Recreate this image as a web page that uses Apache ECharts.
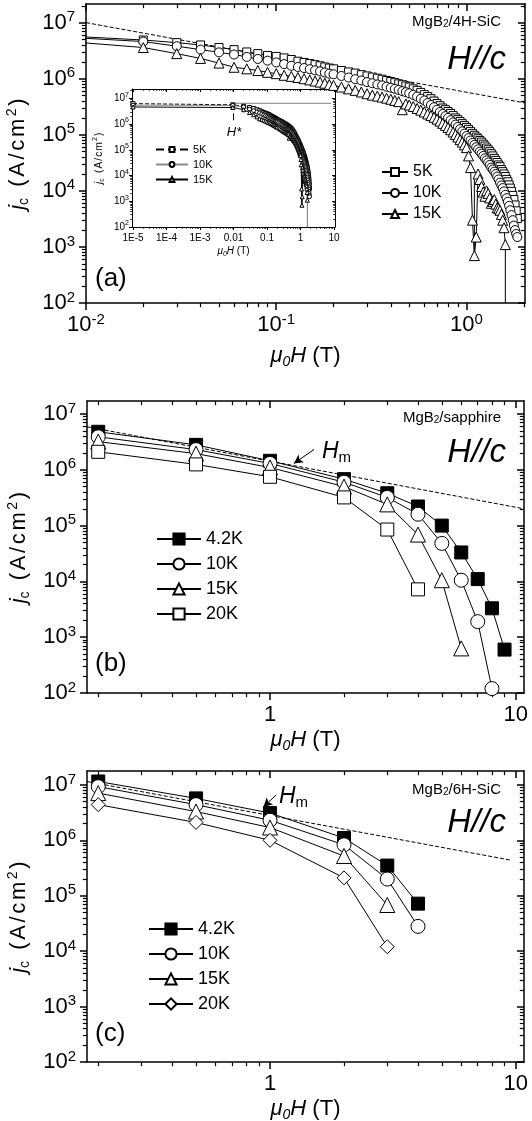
<!DOCTYPE html>
<html>
<head>
<meta charset="utf-8">
<title>MgB2 jc(H)</title>
<script src="https://cdn.jsdelivr.net/npm/echarts@6/dist/echarts.min.js"></script>
<style>html,body{margin:0;padding:0;background:#fff;}</style>
</head>
<body>
<div id="main" style="width:532px;height:1121px;"></div>
<script type="text/javascript">
// ---- panel (a): MgB2/4H-SiC, field (T) and jc (A/cm2) ----
var fieldA = [1e-5, 0.0095,
    0.02, 0.03, 0.04, 0.05, 0.06, 0.07, 0.08, 0.09, 0.1,
    0.11, 0.12, 0.13, 0.14, 0.15, 0.16, 0.17, 0.18, 0.19, 0.2,
    0.22, 0.24, 0.26, 0.28, 0.3, 0.32, 0.34, 0.36, 0.38, 0.4, 0.42, 0.44, 0.46, 0.48, 0.5,
    0.525, 0.55, 0.575, 0.6, 0.625, 0.65, 0.675, 0.7, 0.725, 0.75, 0.775, 0.8, 0.825, 0.85, 0.875, 0.9, 0.925, 0.95, 0.975, 1.0,
    1.025, 1.05, 1.075, 1.1, 1.125, 1.15, 1.175, 1.2, 1.225, 1.25, 1.275, 1.3, 1.325, 1.35, 1.375, 1.4, 1.425, 1.45, 1.475, 1.5,
    1.525, 1.55, 1.575, 1.6, 1.625, 1.65, 1.675, 1.7, 1.725, 1.75, 1.775, 1.8, 1.825, 1.85];
var jcA5K = [6.2e6, 5.6e6,
    4.9e6, 4.4e6, 4.0e6, 3.6e6, 3.3e6, 3.0e6, 2.8e6, 2.6e6, 2.5e6,
    2.35e6, 2.2e6, 2.05e6, 1.95e6, 1.86e6, 1.78e6, 1.7e6, 1.62e6, 1.55e6, 1.5e6,
    1.4e6, 1.32e6, 1.26e6, 1.18e6, 1.12e6, 1.07e6, 1.02e6, 9.8e5, 9.3e5, 8.9e5, 8.5e5, 8.1e5, 7.8e5, 7.4e5, 7.1e5,
    6.6e5, 6.2e5, 5.7e5, 5.2e5, 4.8e5, 4.4e5, 4.0e5, 3.6e5, 3.3e5, 3.0e5, 2.8e5, 2.6e5, 2.4e5, 2.2e5, 2.0e5, 1.86e5, 1.72e5, 1.58e5, 1.46e5, 1.35e5,
    1.25e5, 1.15e5, 1.06e5, 9.8e4, 9.1e4, 8.5e4, 7.9e4, 7.4e4, 6.8e4, 6.3e4, 5.8e4, 5.4e4, 5.0e4, 4.6e4, 4.2e4, 3.8e4, 3.5e4, 3.2e4, 2.9e4, 2.7e4,
    2.4e4, 2.2e4, 2.0e4, 1.8e4, 1.6e4, 1.45e4, 1.28e4, 1.12e4, 9.8e3, 8.3e3, 7.0e3, 5.6e3, 4.4e3, 3.2e3];
var jcA10K = [5.4e6, 5.3e6,
    4.6e6, 3.8e6, 3.3e6, 2.95e6, 2.7e6, 2.45e6, 2.25e6, 2.1e6, 1.95e6,
    1.82e6, 1.7e6, 1.62e6, 1.55e6, 1.48e6, 1.41e6, 1.35e6, 1.29e6, 1.23e6, 1.2e6,
    1.12e6, 1.05e6, 9.8e5, 9.3e5, 8.7e5, 8.3e5, 7.9e5, 7.6e5, 7.2e5, 6.9e5, 6.6e5, 6.3e5, 6.0e5, 5.75e5, 5.5e5,
    5.15e5, 4.8e5, 4.4e5, 4.1e5, 3.7e5, 3.4e5, 3.1e5, 2.8e5, 2.55e5, 2.35e5, 2.15e5, 2.0e5, 1.82e5, 1.66e5, 1.52e5, 1.38e5, 1.26e5, 1.15e5, 1.05e5, 9.5e4,
    8.7e4, 7.9e4, 7.2e4, 6.6e4, 6.0e4, 5.5e4, 5.0e4, 4.6e4, 4.2e4, 3.8e4, 3.5e4, 3.2e4, 2.9e4, 2.6e4, 2.4e4, 2.2e4, 2.0e4, 1.8e4, 1.6e4, 1.4e4,
    1.25e4, 1.12e4, 9.8e3, 8.5e3, 7.4e3, 6.4e3, 5.4e3, 4.5e3, 3.7e3, 3.0e3, 2.4e3, 2.0e3, 1.7e3, 1.5e3];
var jcA15K = [4.6e6, 4.4e6,
    3.6e6, 2.8e6, 2.3e6, 1.9e6, 1.6e6, 1.5e6, 1.4e6, 1.3e6, 1.23e6,
    1.15e6, 1.1e6, 1.05e6, 1.0e6, 9.5e5, 9.1e5, 8.7e5, 8.3e5, 7.9e5, 7.6e5,
    7.1e5, 6.6e5, 6.2e5, 5.8e5, 5.4e5, 5.1e5, 4.9e5, 4.7e5, 4.5e5, 4.3e5, 4.1e5, 3.9e5, 2.8e5, 3.55e5, 3.4e5,
    3.2e5, 2.95e5, 2.75e5, 2.55e5, 2.35e5, 2.2e5, 2.05e5, 1.9e5, 1.75e5, 1.6e5, 1.47e5, 1.35e5, 1.23e5, 1.12e5, 1.01e5, 9.1e4, 8.2e4, 7.4e4, 6.6e4, 5.9e4,
    4.2e4, 2.6e4, 3.0e3, 7e2, 1.5e3, 2.0e4, 1.6e4, 1.2e4, 9.5e3, 8e3, 1.0e4, 9e3, 7.5e3, 6e3, 6.5e3, 7e3, 5.8e3, 5e3, 4.8e3, 4.5e3,
    3.8e3, 3e3, 2.2e3, 1.1e3, null, null, null, null, null, null, null, null, null, null];
var errA = [[1.1, 7e2, 1.6e4], [1.6, 1e2, 1.1e3]];   // field, low, high
var dashA = [[0.01, 1e7], [2.03, 3.7e5]];
var dotInset = [[0.01, 6.4e6], [8, 6.4e6]];
var hStarTick = [[0.01, 2.6e6], [0.01, 1.4e6]];

// ---- panel (b): MgB2/sapphire ----
var fieldB = [0.2, 0.5, 1, 2, 3, 4, 5, 6, 7, 8, 9];
var jcB42K = [4.8e6, 2.8e6, 1.45e6, 6.8e5, 3.8e5, 2.2e5, 1.0e5, 3.3e4, 1.1e4, 3.3e3, 6e2];
var jcB10K = [3.9e6, 2.3e6, 1.3e6, 6.0e5, 3.2e5, 1.6e5, 4.8e4, 1.05e4, 1.9e3, 1.2e2, null];
var jcB15K = [3.2e6, 1.95e6, 1.1e6, 5.0e5, 2.4e5, 6.9e4, 1.05e4, 6.3e2, null, null, null];
var jcB20K = [2.1e6, 1.25e6, 7.5e5, 3.2e5, 8.5e4, 7.2e3, null, null, null, null, null];
var dashB = [[0.18, 5.9e6], [10.8, 2e5]];
var arrowB = [[1.51, 2.31e6], [1.25, 1.3e6]];

// ---- panel (c): MgB2/6H-SiC ----
var fieldC = [0.2, 0.5, 1, 2, 3, 4];
var jcC42K = [1.15e7, 5.7e6, 3.1e6, 1.1e6, 3.5e5, 7.2e4];
var jcC10K = [9.3e6, 4.4e6, 2.3e6, 8.3e5, 2.0e5, 2.8e4];
var jcC15K = [7.1e6, 3.3e6, 1.7e6, 5.2e5, 6.8e4, null];
var jcC20K = [4.4e6, 2.1e6, 1.0e6, 2.1e5, 1.2e4, null];
var dashC = [[0.18, 1.15e7], [9.5, 4.4e5]];
var arrowC = [[1.06, 6.6e6], [0.94, 4.0e6]];

// tick marks / labels
var subTicks = [2, 3, 4, 5, 6, 7, 8, 9];
var insetXLabels = ['1E-5', '1E-4', '1E-3', '0.01', '0.1', '1', '10'];

var FONT = 'Liberation Sans';
var BLACK = '#000';
var WHITE = '#fff';

function lg(v) { return Math.log10(v); }
function majorTicks(lo, hi) {
    var out = [];
    for (var n = Math.ceil(lo - 1e-9); n <= Math.floor(hi + 1e-9); n++) out.push(n);
    return out;
}
function minorTicks(lo, hi) {
    var out = [];
    for (var n = Math.floor(lo); n <= Math.ceil(hi); n++) {
        subTicks.forEach(function (m) {
            var v = n + lg(m);
            if (v >= lo && v <= hi) out.push(v);
        });
    }
    return out;
}

var grids = [], xAxes = [], yAxes = [], series = [];

function overlay(gi, lo, hi, extra) {
    return Object.assign({
        type: 'value', gridIndex: gi, min: lo, max: hi, silent: true,
        splitLine: { show: false },
        axisLine: { show: false, onZero: false },
        axisTick: { show: false },
        axisLabel: { show: false }
    }, extra);
}
function tick(values, len, inside, w) {
    return { show: true, customValues: values, length: len, inside: inside,
        lineStyle: { color: BLACK, width: w } };
}
function txt(size, more) {
    return Object.assign({ fontSize: size, fontFamily: FONT, color: BLACK }, more);
}

// one framed log-log panel; returns the indices of its data axes
function panel(p) {
    var gi = grids.length;
    grids.push({ left: p.left, top: p.top, width: p.width, height: p.height,
        containLabel: false, outerBoundsMode: 'none' });
    var ax = { x: xAxes.length, y: yAxes.length };
    xAxes.push({ type: 'log', gridIndex: gi, min: p.x[0], max: p.x[1], show: false });
    yAxes.push({ type: 'log', gridIndex: gi, min: p.y[0], max: p.y[1], show: false });

    var x0 = lg(p.x[0]), x1 = lg(p.x[1]), y0 = lg(p.y[0]), y1 = lg(p.y[1]);
    var xM = majorTicks(x0, x1), xm = minorTicks(x0, x1);
    var yM = majorTicks(y0, y1), ym = minorTicks(y0, y1);
    var line = { show: true, onZero: false, lineStyle: { color: BLACK, width: p.lw } };
    var sup = {
        b: txt(p.fs, { lineHeight: p.fs + 4 }),
        s: txt(Math.round(p.fs * 0.68), { lineHeight: Math.round(p.fs * 0.5), verticalAlign: 'top' })
    };
    var lab = { show: true, color: BLACK, fontFamily: FONT, fontSize: p.fs, rich: sup };
    var n = p.nfs, sp = [0, p.sp, 0, p.sp];
    var xName = { fontSize: n, fontFamily: FONT, color: BLACK, lineHeight: n + 4,
        rich: {
            i: txt(n, { fontStyle: 'italic', lineHeight: n + 4 }),
            subi: txt(Math.round(n * 0.65), { fontStyle: 'italic', lineHeight: Math.round(n * 0.55), verticalAlign: 'bottom' })
        } };
    var yName = { fontSize: n, fontFamily: FONT, color: BLACK, lineHeight: n + 4,
        rich: {
            i: txt(n, { fontStyle: 'italic', lineHeight: n + 4 }),
            t: txt(n, { lineHeight: n + 4, padding: sp }),
            sub: txt(Math.round(n * 0.65), { lineHeight: Math.round(n * 0.55), verticalAlign: 'bottom', padding: [0, p.sp, 0, 0] }),
            sup: txt(Math.round(n * 0.65), { lineHeight: Math.round(n * 0.6), verticalAlign: 'top', padding: sp })
        } };

    xAxes.push(overlay(gi, x0, x1, {
        position: 'bottom', axisLine: line, axisTick: tick(xM, p.tl, false, p.lw),
        axisLabel: Object.assign({ customValues: xM, margin: p.xMargin, formatter: p.xFmt }, lab),
        name: '{i|μ}{subi|0}{i|H} (T)', nameLocation: 'middle', nameGap: p.xGap, nameTextStyle: xName
    }));
    xAxes.push(overlay(gi, x0, x1, { position: 'bottom', axisTick: tick(xm, p.tl * 0.6, false, p.lw * 0.8) }));
    xAxes.push(overlay(gi, x0, x1, { position: 'top', axisLine: line, axisTick: tick(xM, p.tl, true, p.lw) }));
    xAxes.push(overlay(gi, x0, x1, { position: 'top', axisTick: tick(xm, p.tl * 0.6, true, p.lw * 0.8) }));

    yAxes.push(overlay(gi, y0, y1, {
        position: 'left', axisLine: line, axisTick: tick(yM, p.tl, false, p.lw),
        axisLabel: Object.assign({ customValues: yM, margin: p.yMargin,
            formatter: function (v) { return '{b|10}{s|' + v + '}'; } }, lab),
        name: '{i|j}{sub|c}{t| }{t|(}{t|A}{t|/}{t|c}{t|m}{sup|2}{t|)}',
        nameLocation: 'middle', nameRotate: 90, nameGap: p.yGap, nameTextStyle: yName
    }));
    yAxes.push(overlay(gi, y0, y1, { position: 'left', axisTick: tick(ym, p.tl * 0.6, false, p.lw * 0.8) }));
    yAxes.push(overlay(gi, y0, y1, { position: 'right', axisLine: line, axisTick: tick(yM, p.tl, true, p.lw) }));
    yAxes.push(overlay(gi, y0, y1, { position: 'right', axisTick: tick(ym, p.tl * 0.6, true, p.lw * 0.8) }));
    return ax;
}

function pts(xs, ys) {
    var out = [];
    xs.forEach(function (x, i) { if (ys[i] != null) out.push([x, ys[i]]); });
    return out;
}
function curve(name, ax, data, sym, size, fill, lineStyle) {
    series.push({
        name: name, type: 'line', xAxisIndex: ax.x, yAxisIndex: ax.y, data: data,
        symbol: sym, symbolSize: size, showAllSymbol: true, clip: true, z: 3,
        lineStyle: Object.assign({ color: BLACK, width: 1 }, lineStyle || {}),
        itemStyle: { color: fill, borderColor: BLACK, borderWidth: 1 },
        emphasis: { disabled: true }
    });
}
function guide(ax, data, type, color, extra) {
    series.push(Object.assign({
        type: 'line', xAxisIndex: ax.x, yAxisIndex: ax.y, data: data, symbol: 'none', z: 2,
        lineStyle: { color: color || BLACK, width: 1, type: type || 'solid' },
        emphasis: { disabled: true }, silent: true
    }, extra || {}));
}
function arrow(ax, a) {
    guide(ax, [], 'solid', BLACK, {
        markLine: {
            silent: true, animation: false, label: { show: false },
            lineStyle: { color: BLACK, width: 1, type: 'solid' }, symbolSize: [7, 9],
            data: [[{ coord: a[0], symbol: 'none' }, { coord: a[1], symbol: 'arrow' }]]
        }
    });
}

var big = { lw: 1.5, tl: 7, fs: 22, nfs: 22, sp: 1.3, xMargin: 9, yMargin: 11, yGap: 46 };
function decadeFmt(v) { return '{b|10}{s|' + v + '}'; }
function plainFmt(v) { return '{b|' + Math.round(Math.pow(10, v)) + '}'; }

// panel (a) and its inset
var A = panel(Object.assign({}, big, { left: 86, top: 4, width: 439, height: 299,
    x: [0.01, 2.03], y: [100, 2.15e7], xGap: 40, xFmt: decadeFmt }));
var I = panel({ left: 132, top: 89, width: 203, height: 138, lw: 1, tl: 3, fs: 10, nfs: 10, sp: 0.6,
    xMargin: 4, yMargin: 3, xGap: 17, yGap: 26,
    x: [0.0000093, 10.7], y: [100, 2.3e7],
    xFmt: function (v) { return '{b|' + insetXLabels[v + 5] + '}'; } });
var B = panel(Object.assign({}, big, { left: 87, top: 401, width: 437, height: 292,
    x: [0.18, 10.8], y: [100, 1.71e7], xGap: 34, xFmt: plainFmt }));
var C = panel(Object.assign({}, big, { left: 87, top: 771, width: 437, height: 291,
    x: [0.18, 10.8], y: [100, 1.78e7], xGap: 34, xFmt: plainFmt }));

// (a) main
guide(A, dashA, 'dashed');
errA.forEach(function (e) { guide(A, [[e[0], e[1]], [e[0], e[2]]]); });
curve('a|5K', A, pts(fieldA, jcA5K), 'rect', 8, WHITE);
curve('a|10K', A, pts(fieldA, jcA10K), 'circle', 9, WHITE);
curve('a|15K', A, pts(fieldA, jcA15K), 'triangle', 10, WHITE);

// inset
guide(I, dotInset, 'dotted');
guide(I, hStarTick);
errA.forEach(function (e) { guide(I, [[e[0], e[1]], [e[0], e[2]]], 'solid', '#777'); });
curve('i|5K', I, pts(fieldA, jcA5K), 'rect', 4, WHITE, { type: 'dashed' });
curve('i|10K', I, pts(fieldA, jcA10K), 'circle', 4, WHITE, { color: '#888' });
curve('i|15K', I, pts(fieldA, jcA15K), 'triangle', 4, WHITE);

// (b)
guide(B, dashB, 'dashed');
arrow(B, arrowB);
curve('b|4.2K', B, pts(fieldB, jcB42K), 'rect', 13, BLACK);
curve('b|10K', B, pts(fieldB, jcB10K), 'circle', 14, WHITE);
curve('b|15K', B, pts(fieldB, jcB15K), 'triangle', 15, WHITE);
curve('b|20K', B, pts(fieldB, jcB20K), 'rect', 13, WHITE);

// (c)
guide(C, dashC, 'dashed');
arrow(C, arrowC);
curve('c|4.2K', C, pts(fieldC, jcC42K), 'rect', 13, BLACK);
curve('c|10K', C, pts(fieldC, jcC10K), 'circle', 14, WHITE);
curve('c|15K', C, pts(fieldC, jcC15K), 'triangle', 15, WHITE);
curve('c|20K', C, pts(fieldC, jcC20K), 'diamond', 14, WHITE);

function legend(names, left, top, w, h, gap, fs) {
    return {
        data: names, orient: 'vertical', left: left, top: top, padding: 0,
        itemWidth: w, itemHeight: h, itemGap: gap, selectedMode: false,
        formatter: function (n) { return n.split('|')[1]; },
        textStyle: { fontSize: fs, fontFamily: FONT, color: BLACK, lineHeight: h }
    };
}

function label(x, y, text, size, align, extra) {
    return {
        type: 'text', x: x, y: y, silent: true,
        style: Object.assign({
            text: text, fontSize: size, fontFamily: FONT, fill: BLACK,
            align: align || 'left', verticalAlign: 'middle',
            textAlign: align || 'left', textVerticalAlign: 'middle'
        }, extra || {})
    };
}
var subRich = { s: { fontSize: 10, verticalAlign: 'bottom', lineHeight: 9, fontFamily: FONT, fill: BLACK } };
var hmRich = {
    h: { fontSize: 23, fontStyle: 'italic', fontFamily: FONT, lineHeight: 26, fill: BLACK },
    m: { fontSize: 15, fontFamily: FONT, verticalAlign: 'bottom', lineHeight: 12, fill: BLACK }
};

var option = {
    animation: false,
    backgroundColor: '#fff',
    grid: grids,
    xAxis: xAxes,
    yAxis: yAxes,
    legend: [
        legend(['a|5K', 'a|10K', 'a|15K'], 381, 164, 26, 10, 5, 16),
        legend(['i|5K', 'i|10K', 'i|15K'], 155, 144, 32, 6, 4, 11),
        legend(['b|4.2K', 'b|10K', 'b|15K', 'b|20K'], 156, 530, 44, 14, 7, 18),
        legend(['c|4.2K', 'c|10K', 'c|15K', 'c|20K'], 148, 920, 44, 14, 7, 18)
    ],
    graphic: [
        label(501, 22, 'MgB{s|2}/4H-SiC', 15, 'right', { rich: subRich }),
        label(506, 60, 'H//c', 33, 'right', { fontStyle: 'italic' }),
        label(95, 279, '(a)', 26),
        label(234, 132, 'H*', 13, 'center', { fontStyle: 'italic' }),
        label(501, 418, 'MgB{s|2}/sapphire', 15, 'right', { rich: subRich }),
        label(506, 453, 'H//c', 33, 'right', { fontStyle: 'italic' }),
        label(322, 452, '{h|H}{m|m}', 23, 'left', { rich: hmRich }),
        label(95, 664, '(b)', 26),
        label(501, 790, 'MgB{s|2}/6H-SiC', 15, 'right', { rich: subRich }),
        label(506, 823, 'H//c', 33, 'right', { fontStyle: 'italic' }),
        label(279, 797, '{h|H}{m|m}', 23, 'left', { rich: hmRich }),
        label(95, 1034, '(c)', 26)
    ],
    series: series
};

var myChart = echarts.init(document.getElementById('main'), null, { renderer: 'canvas' });
myChart.setOption(option);
</script>
</body>
</html>
